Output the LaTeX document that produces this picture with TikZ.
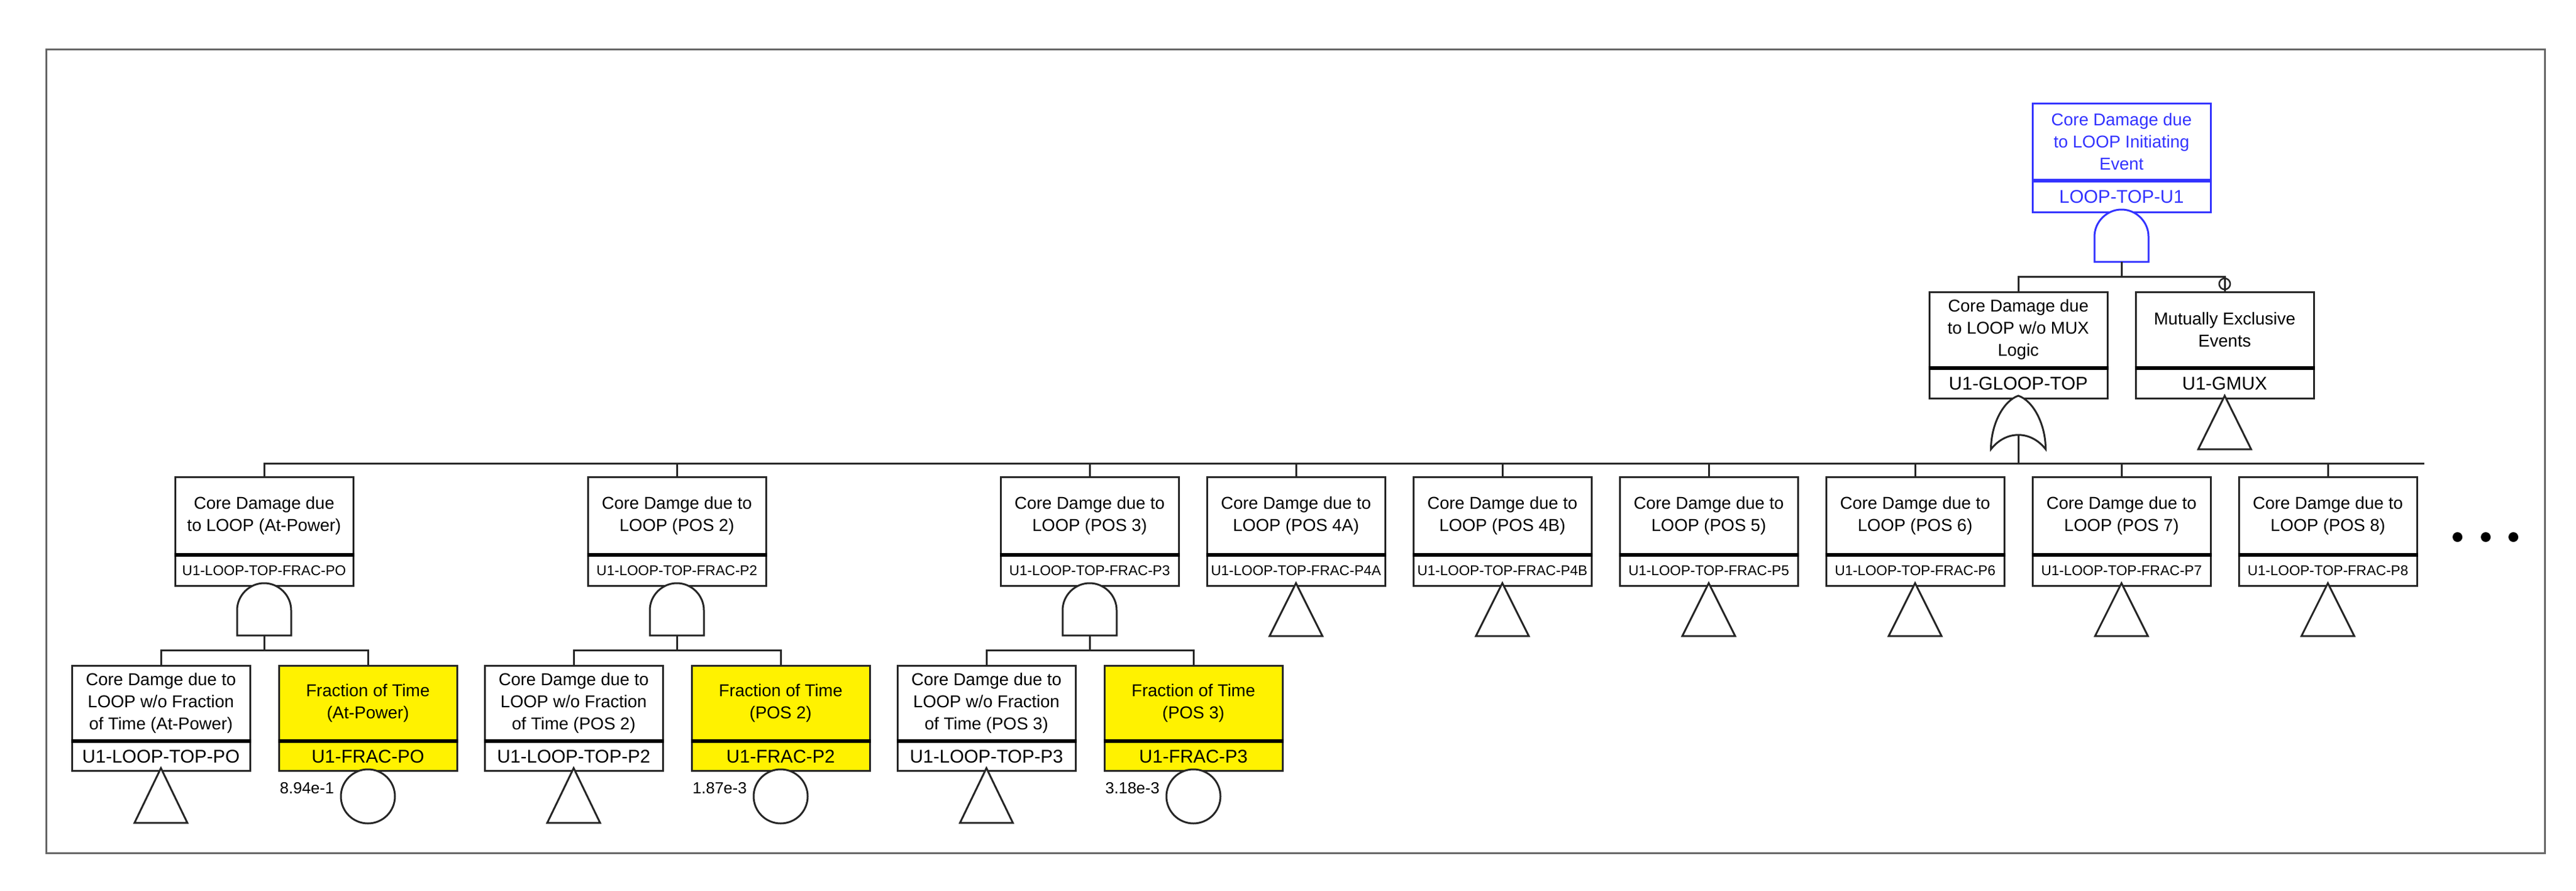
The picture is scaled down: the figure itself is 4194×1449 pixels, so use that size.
\documentclass[tikz,border=0pt]{standalone}
\usepackage{fontspec}
\setmainfont{Liberation Sans}
\begin{document}
\begin{tikzpicture}[x=1pt,y=-1pt,
  ln/.style={line width=3pt,draw=black!85},
  box/.style={draw=black!85,line width=3pt,minimum width=290pt,inner sep=0pt,align=center,font=\fontsize{28}{36}\selectfont},
  yel/.style={fill=yellow},
  blu/.style={draw=blue!80,text=blue!80},
  gate/.style={line width=3pt,draw=black!85,fill=white},
  idbig/.style={font=\fontsize{30}{36}\selectfont},
  idsmall/.style={font=\fontsize{23}{28}\selectfont},
  prob/.style={font=\fontsize{26}{30}\selectfont,anchor=east,inner sep=0pt}]
\useasboundingbox (0,0) rectangle (4194,1449);
\draw[line width=3pt,draw=black!60] (75,80) rectangle (4143,1388);
% box macro: name, cx, top, h1, h2, style, desc, id, idstyle
\newcommand\ftbox[9]{%
  \node[box,#6,minimum height=#4pt,anchor=north] (#1) at (#2,#3) {#7};
  \node[box,#6,#9,minimum height=#5pt,anchor=north] (#1id) at (#1.south) {#8};
  \draw[line width=6pt,#6,fill=none] (#1.south west) -- (#1.south east);}
% AND gate: name, cx, top
\newcommand\andg[4]{%
  \draw[gate,#4] (#2-44,#3+85) -- (#2-44,#3+44) .. controls (#2-44,#3+20) and (#2-24,#3) .. (#2,#3)
    .. controls (#2+24,#3) and (#2+44,#3+20) .. (#2+44,#3+44) -- (#2+44,#3+85) -- cycle;
  \coordinate (#1) at (#2,#3+85);}
% triangle: name, cx, top, bottom
\newcommand\trig[4]{%
  \draw[gate] (#2,#3) -- (#2+43,#4) -- (#2-43,#4) -- cycle;
  \coordinate (#1) at (#2,#3);}
% circle: name, cx, cy
\newcommand\basic[3]{%
  \node[gate,draw,circle,minimum size=88pt,inner sep=0pt] (#1) at (#2,#3) {};}

% top
\ftbox{top}{3454}{167}{124}{50}{blu}{Core Damage due\\to LOOP Initiating\\Event}{LOOP-TOP-U1}{idbig}
\andg{topg}{3454}{341}{draw=blue!80}
\ftbox{gloop}{3286}{474}{122}{48}{}{Core Damage due\\to LOOP w/o MUX\\Logic}{U1-GLOOP-TOP}{idbig}
\ftbox{gmux}{3622}{474}{122}{48}{}{Mutually Exclusive\\Events}{U1-GMUX}{idbig}
\coordinate (bar1) at (3454,450);
\draw[ln] (topg) -- (bar1);
\draw[ln] (gloop.north) |- (bar1) -| (gmux.north);
\draw[line width=2.5pt,draw=black!85,fill=white] (3622,462) circle (9pt);
\draw[ln] (3622,450) -- (gmux.north);
\trig{gmuxt}{3622}{644}{731}
% OR gate
\draw[gate] (3241.5,731) .. controls (3241.5,690) and (3262,652) .. (3286,644)
  .. controls (3310,652) and (3330.5,690) .. (3330.5,731)
  .. controls (3306,700) and (3266,700) .. cycle;
\coordinate (org) at (3286,708);
\coordinate (mb) at (3947,754);

% level 2
\ftbox{l1}{430}{775}{125}{49}{}{Core Damage due\\to LOOP (At-Power)}{U1-LOOP-TOP-FRAC-PO}{idsmall}
\ftbox{l2}{1102}{775}{125}{49}{}{Core Damge due to\\LOOP (POS 2)}{U1-LOOP-TOP-FRAC-P2}{idsmall}
\ftbox{l3}{1774}{775}{125}{49}{}{Core Damge due to\\LOOP (POS 3)}{U1-LOOP-TOP-FRAC-P3}{idsmall}
\ftbox{l4}{2110}{775}{125}{49}{}{Core Damge due to\\LOOP (POS 4A)}{U1-LOOP-TOP-FRAC-P4A}{idsmall}
\ftbox{l5}{2446}{775}{125}{49}{}{Core Damge due to\\LOOP (POS 4B)}{U1-LOOP-TOP-FRAC-P4B}{idsmall}
\ftbox{l6}{2782}{775}{125}{49}{}{Core Damge due to\\LOOP (POS 5)}{U1-LOOP-TOP-FRAC-P5}{idsmall}
\ftbox{l7}{3118}{775}{125}{49}{}{Core Damge due to\\LOOP (POS 6)}{U1-LOOP-TOP-FRAC-P6}{idsmall}
\ftbox{l8}{3454}{775}{125}{49}{}{Core Damge due to\\LOOP (POS 7)}{U1-LOOP-TOP-FRAC-P7}{idsmall}
\ftbox{l9}{3790}{775}{125}{49}{}{Core Damge due to\\LOOP (POS 8)}{U1-LOOP-TOP-FRAC-P8}{idsmall}
\draw[ln] (l1.north) |- (mb);
\foreach \n in {l2,l3,l4,l5,l6,l7,l8,l9} \draw[ln] (\n.north) -- (\n.north |- mb);
\draw[ln] (org) -- (org |- mb);
\foreach \n/\x in {l4/2110,l5/2446,l6/2782,l7/3118,l8/3454,l9/3790} {\trig{\n t}{\x}{949}{1035}}

% groups with AND gates
\foreach \g/\c/\txt/\pv/\p in {1/430/At-Power/PO/8.94e-1,2/1102/POS 2/P2/1.87e-3,3/1774/POS 3/P3/3.18e-3} {
  \andg{g\g}{\c}{949}{}
  \coordinate (b\g) at (\c,1058);
  \ftbox{c\g}{\c-168}{1082}{121}{47}{}{Core Damge due to\\LOOP w/o Fraction\\of Time (\txt)}{U1-LOOP-TOP-\pv}{idbig}
  \ftbox{f\g}{\c+169}{1082}{121}{47}{yel}{Fraction of Time\\(\txt)}{U1-FRAC-\pv}{idbig}
  \draw[ln] (g\g) -- (b\g);
  \draw[ln] (c\g.north) |- (b\g) -| (f\g.north);
  \trig{c\g t}{\c-168}{1250}{1339}
  \basic{e\g}{\c+169}{1296}
  \node[prob] (pl\g) at (\c+114,1283) {\p};
}
% continuation dots
\foreach \x/\k in {4001/1,4047/2,4092/3} \fill (\x,874) circle (8pt) coordinate (dot\k);
\end{tikzpicture}
\end{document}
